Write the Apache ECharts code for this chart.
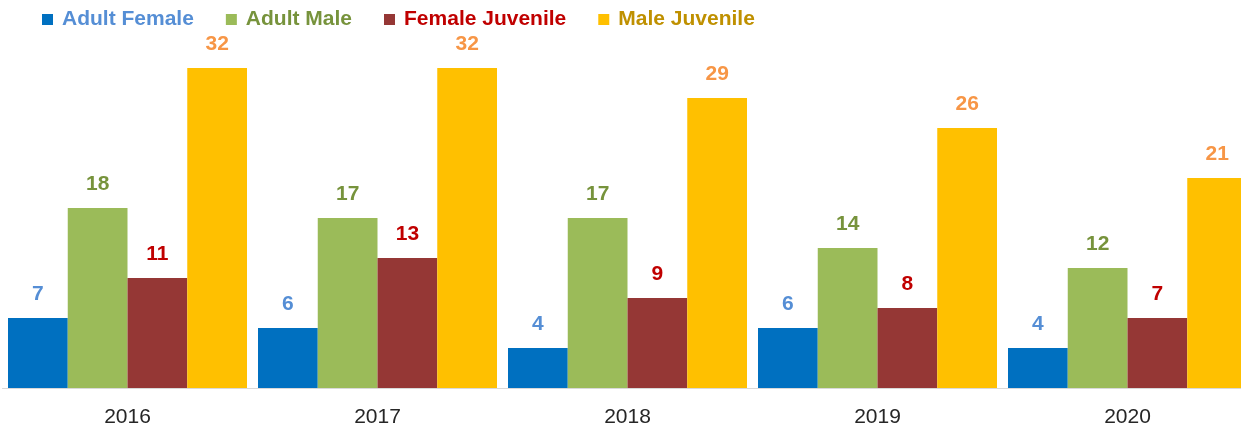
<!DOCTYPE html>
<html>
<head>
<meta charset="utf-8">
<script src="https://cdn.jsdelivr.net/npm/echarts@6/dist/echarts.min.js"></script>
<style>
  html, body { margin: 0; padding: 0; background: #fff; }
  #chart { width: 1241px; height: 431px; }
</style>
</head>
<body>
<div id="chart"></div>
<script>
// categories (years)
const years = ['2016', '2017', '2018', '2019', '2020'];

// series values
const adultFemale = [7, 6, 4, 6, 4];
const adultMale = [18, 17, 17, 14, 12];
const femaleJuvenile = [11, 13, 9, 8, 7];
const maleJuvenile = [32, 32, 29, 26, 21];

const seriesNames = ['Adult Female', 'Adult Male', 'Female Juvenile', 'Male Juvenile'];
const barColors = ['#0070c0', '#9bbb59', '#953735', '#ffc000'];
const labelColors = ['#558ed5', '#77933c', '#c00000', '#f79646'];
const legendColors = ['#558ed5', '#77933c', '#c00000', '#bf9000'];

const chart = echarts.init(document.getElementById('chart'));
const font = '"Liberation Sans", Arial, sans-serif';

function makeSeries(name, data, i) {
  return {
    name: name,
    type: 'bar',
    data: data,
    barGap: '0%',
    barCategoryGap: '4.4%',
    itemStyle: { color: barColors[i] },
    label: {
      show: true,
      position: 'top',
      distance: 13,
      color: labelColors[i],
      fontFamily: font,
      fontWeight: 'bold',
      fontSize: 21
    },
    emphasis: { disabled: true }
  };
}

const option = {
  animation: false,
  backgroundColor: '#ffffff',
  legend: {
    left: 42,
    top: 9,
    padding: 0,
    itemWidth: 11,
    itemHeight: 11,
    itemGap: 32,
    icon: 'rect',
    textStyle: {
      fontFamily: font,
      fontWeight: 'bold',
      fontSize: 21,
      padding: [0, 0, 0, 4]
    },
    data: seriesNames.map((n, i) => ({ name: n, textStyle: { color: legendColors[i] } }))
  },
  grid: {
    left: 2.5,
    width: 1250,
    top: 38,
    bottom: 43,
    containLabel: false,
    outerBoundsMode: 'none'
  },
  xAxis: {
    type: 'category',
    data: years,
    axisLine: { show: true, lineStyle: { color: '#d9d9d9', width: 1 } },
    axisTick: { show: false },
    axisLabel: {
      color: '#262626',
      fontFamily: font,
      fontSize: 21,
      margin: 19
    }
  },
  yAxis: {
    type: 'value',
    min: 0,
    max: 35,
    show: false,
    splitLine: { show: false }
  },
  series: [
    makeSeries(seriesNames[0], adultFemale, 0),
    makeSeries(seriesNames[1], adultMale, 1),
    makeSeries(seriesNames[2], femaleJuvenile, 2),
    makeSeries(seriesNames[3], maleJuvenile, 3)
  ]
};

chart.setOption(option);
</script>
</body>
</html>
